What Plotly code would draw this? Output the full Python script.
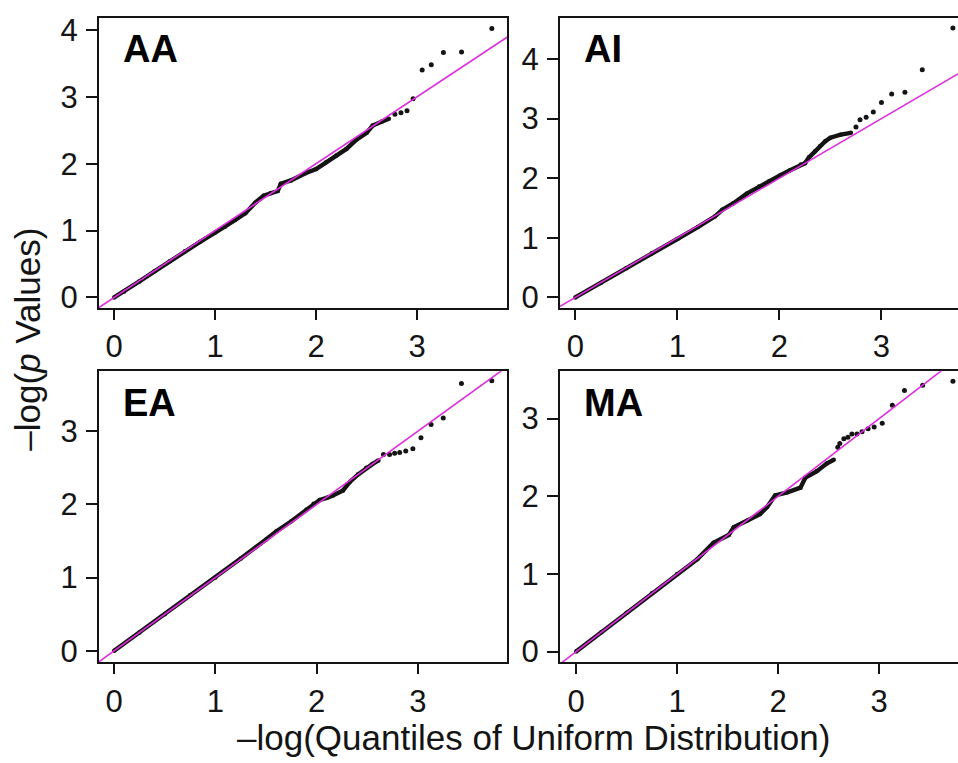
import plotly.graph_objects as go

# Q-Q plots of -log10 p values against uniform quantiles, four panels.
panels = ["AA", "AI", "EA", "MA"]

# Dense part of each curve (expected, observed)
aa_body_x = [0.00, 0.10, 0.25, 0.40, 0.55, 0.70, 0.85, 1.00, 1.10, 1.20, 1.30, 1.40, 1.48, 1.55,
             1.62, 1.65, 1.75, 1.90, 2.00, 2.10, 2.20, 2.30, 2.40, 2.50, 2.56, 2.65, 2.72]
aa_body_y = [0.00, 0.09, 0.24, 0.39, 0.54, 0.69, 0.83, 0.97, 1.06, 1.16, 1.26, 1.42, 1.52, 1.56,
             1.59, 1.70, 1.75, 1.86, 1.92, 2.02, 2.12, 2.22, 2.36, 2.46, 2.57, 2.63, 2.67]
aa_tail_x = [2.78, 2.84, 2.90, 2.96, 3.05, 3.14, 3.26, 3.44, 3.74]
aa_tail_y = [2.74, 2.76, 2.79, 2.97, 3.40, 3.48, 3.66, 3.67, 4.02]

ai_body_x = [0.00, 0.25, 0.50, 0.75, 1.00, 1.20, 1.37, 1.44, 1.55, 1.68, 1.80, 1.90, 2.01,
             2.10, 2.21, 2.25, 2.29, 2.35, 2.40, 2.45, 2.50, 2.60, 2.70]
ai_body_y = [0.00, 0.24, 0.49, 0.74, 0.98, 1.18, 1.36, 1.47, 1.58, 1.74, 1.86, 1.95, 2.05,
             2.13, 2.23, 2.25, 2.35, 2.45, 2.54, 2.62, 2.68, 2.73, 2.76]
ai_tail_x = [2.75, 2.79, 2.85, 2.92, 3.00, 3.10, 3.23, 3.40, 3.70]
ai_tail_y = [2.86, 2.98, 3.02, 3.11, 3.27, 3.41, 3.44, 3.82, 4.52]

ea_body_x = [0.00, 0.25, 0.50, 0.75, 1.00, 1.25, 1.50, 1.60, 1.75, 1.90, 1.97, 2.03, 2.10,
             2.16, 2.26, 2.33, 2.41, 2.49, 2.55, 2.61]
ea_body_y = [0.00, 0.25, 0.50, 0.76, 1.00, 1.26, 1.52, 1.63, 1.77, 1.93, 2.01, 2.06, 2.09,
             2.12, 2.19, 2.31, 2.41, 2.50, 2.55, 2.60]
ea_tail_x = [2.66, 2.72, 2.77, 2.82, 2.88, 2.95, 3.03, 3.13, 3.25, 3.43, 3.73]
ea_tail_y = [2.68, 2.68, 2.70, 2.71, 2.73, 2.76, 2.91, 3.09, 3.18, 3.65, 3.69]

ma_body_x = [0.00, 0.25, 0.50, 0.75, 1.00, 1.20, 1.36, 1.51, 1.56, 1.70, 1.82, 1.89, 1.97,
             2.09, 2.22, 2.27, 2.38, 2.48, 2.55]
ma_body_y = [0.00, 0.25, 0.50, 0.75, 1.00, 1.19, 1.40, 1.50, 1.60, 1.69, 1.77, 1.86, 2.01,
             2.05, 2.11, 2.24, 2.32, 2.42, 2.47]
ma_tail_x = [2.59, 2.61, 2.65, 2.69, 2.73, 2.78, 2.83, 2.89, 2.95, 3.03, 3.13, 3.25, 3.43, 3.73]
ma_tail_y = [2.63, 2.68, 2.74, 2.76, 2.80, 2.80, 2.83, 2.87, 2.89, 2.94, 3.17, 3.36, 3.43, 3.48]

x_ticks = [0, 1, 2, 3]
y_ticks = {"AA": [0, 1, 2, 3, 4], "AI": [0, 1, 2, 3, 4], "EA": [0, 1, 2, 3], "MA": [0, 1, 2, 3]}
diag = [-1, 5]  # identity reference line y = x

series = {
    "AA": (aa_body_x, aa_body_y, aa_tail_x, aa_tail_y),
    "AI": (ai_body_x, ai_body_y, ai_tail_x, ai_tail_y),
    "EA": (ea_body_x, ea_body_y, ea_tail_x, ea_tail_y),
    "MA": (ma_body_x, ma_body_y, ma_tail_x, ma_tail_y),
}

W, H = 958, 763
# panel frames in pixels: left, right, top, bottom
frames = {
    "AA": (99, 507, 13, 308),
    "AI": (560, 958, 13, 308),
    "EA": (99, 507, 372, 668),
    "MA": (560, 958, 372, 668),
}
ranges = {
    "AA": ([-0.15, 3.89], [-0.16, 4.18]),
    "AI": ([-0.15, 3.75], [-0.18, 4.69]),
    "EA": ([-0.15, 3.88], [-0.16, 3.82]),
    "MA": ([-0.16, 3.78], [-0.14, 3.61]),
}

INK = "#141414"
MAGENTA = "#dd2ddd"
FONT = "Liberation Sans, Arial, sans-serif"

fig = go.Figure()
layout = dict(
    width=W, height=H, margin=dict(l=0, r=0, t=0, b=0),
    paper_bgcolor="white", plot_bgcolor="white", showlegend=False,
    font=dict(family=FONT, color=INK),
)
annotations = []

for i, name in enumerate(panels, start=1):
    sfx = "" if i == 1 else str(i)
    xa, ya = "x" + sfx, "y" + sfx
    bx, by, tx, ty = series[name]
    fig.add_trace(go.Scatter(x=bx, y=by, xaxis=xa, yaxis=ya, mode="lines+markers",
                             line=dict(color=INK, width=4.4),
                             marker=dict(color=INK, size=4.5), hoverinfo="skip"))
    fig.add_trace(go.Scatter(x=tx, y=ty, xaxis=xa, yaxis=ya, mode="markers",
                             marker=dict(color=INK, size=5), cliponaxis=True, hoverinfo="skip"))
    fig.add_trace(go.Scatter(x=diag, y=diag, xaxis=xa, yaxis=ya, mode="lines",
                             line=dict(color=MAGENTA, width=1.6), hoverinfo="skip"))

    l, r, t, b = frames[name]
    xr, yr = ranges[name]
    right_col = name in ("AI", "MA")
    layout["xaxis" + sfx] = dict(
        domain=[l / W, r / W], anchor=ya, range=xr, tickvals=x_ticks,
        showline=True, linewidth=2, linecolor=INK, mirror=True,
        ticks="outside", ticklen=10, tickwidth=2, tickcolor=INK,
        ticklabelstandoff=0,
        tickfont=dict(size=31, family=FONT, color=INK), showgrid=False, zeroline=False,
    )
    layout["yaxis" + sfx] = dict(
        domain=[1 - b / H, 1 - t / H], anchor=xa, range=yr, tickvals=y_ticks[name],
        showline=True, linewidth=2, linecolor=INK, mirror=not right_col,
        ticks="outside", ticklen=11, tickwidth=2, tickcolor=INK,
        ticklabelstandoff=2,
        tickfont=dict(size=31, family=FONT, color=INK), showgrid=False, zeroline=False,
    )
    annotations.append(dict(
        text=f"<b>{name}</b>", x=(l + 22) / W, y=1 - (t + 32) / H, xref="paper", yref="paper",
        xanchor="left", yanchor="middle", showarrow=False,
        font=dict(size=38, family=FONT, color="#000000"),
    ))

annotations.append(dict(
    text="\u2013log(<i>p</i> Values)", x=28 / W, y=1 - 340 / H, xref="paper", yref="paper",
    xanchor="center", yanchor="middle", textangle=-90, showarrow=False,
    font=dict(size=35, family=FONT, color=INK),
))
annotations.append(dict(
    text="\u2013log(Quantiles of Uniform Distribution)", x=533 / W, y=1 - 744 / H,
    xref="paper", yref="paper", xanchor="center", yanchor="middle", showarrow=False,
    font=dict(size=35, family=FONT, color=INK),
))
layout["annotations"] = annotations
fig.update_layout(**layout)
fig.write_html("out.html")
